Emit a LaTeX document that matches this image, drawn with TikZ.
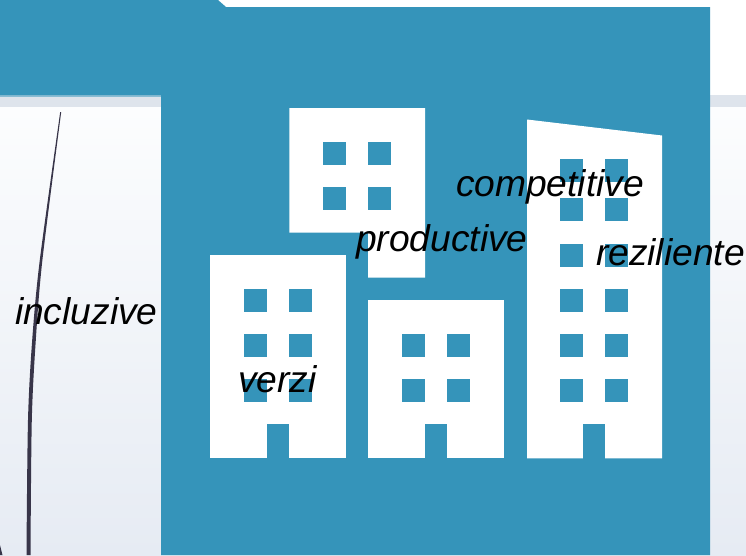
\documentclass[tikz,border=0pt]{standalone}
\usepackage{fontspec}
\setmainfont{Liberation Sans}
\definecolor{teal}{HTML}{3594BA}
\definecolor{bandc}{HTML}{DEE4EC}
\definecolor{curvec}{HTML}{383549}
\definecolor{topc}{HTML}{FCFDFE}
\definecolor{botc}{HTML}{E6EBF3}
\begin{document}
\begin{tikzpicture}[x=1pt,y=-1pt,
  win/.style={fill=teal,draw=none},
  bld/.style={fill=white,draw=none},
  lbl/.style={anchor=base west,inner sep=0pt,outer sep=0pt,font=\fontsize{37.2}{37.2}\selectfont\itshape,text=black}]
\useasboundingbox (0,0) rectangle (746,555);
\fill[white] (0,0) rectangle (746,95);
\fill[bandc] (0,95) rectangle (746,107.5);
\fill[teal!50!bandc] (0,95) rectangle (161,96.5);
\shade[top color=topc,bottom color=botc] (0,107.5) rectangle (746,555);
% curve
\fill[curvec] plot[smooth] coordinates {(60.2,112) (39.8,260) (32.2,340) (28,420) (26.5,555)}
  -- plot[smooth] coordinates {(30.5,555) (31.8,420) (35.8,340) (42.4,260) (61.2,112)} -- cycle;
\fill[curvec] (0,545) -- (2.5,555) -- (0,555) -- cycle;
% teal panel
\fill[teal] (0,0) -- (218,0) -- (226,7) -- (710,7) -- (710,555) -- (161,555) -- (161,95) -- (0,95) -- cycle;
% buildings
\fill[bld] (289.3,108) -- (425,108) -- (425,277.5) -- (368,277.5) -- (368,232.5) -- (289.3,232.5) -- cycle;
\fill[bld] (210.2,255) rectangle (346,458.3);
\fill[bld] (368,300) rectangle (504,458.3);
\fill[bld] (527,119.5) -- (662,135.5) -- (662,458.3) -- (527,458.3) -- cycle;
% windows
\foreach \x in {323.2,368.2} \foreach \y in {142,187} \fill[win] (\x,\y) rectangle ++(22.5,22.5);
\foreach \x in {244.2,289.2} \foreach \y in {289,334,379} \fill[win] (\x,\y) rectangle ++(22.5,22.5);
\foreach \x in {402.2,447.2} \foreach \y in {334,379} \fill[win] (\x,\y) rectangle ++(22.5,22.5);
\foreach \x in {560.2,605.2} \foreach \y in {159,198,244,289,334,379} \fill[win] (\x,\y) rectangle ++(22.5,22.5);
% doors
\fill[win] (266.8,424) rectangle (289.3,460);
\fill[win] (424.8,424) rectangle (447.3,460);
\fill[win] (582.8,424) rectangle (605.3,460);
% labels
\node[lbl] (competitive) at (456,196) {competitive};
\node[lbl] (productive) at (356,251) {productive};
\node[lbl] (reziliente) at (596,265) {reziliente};
\node[lbl] (incluzive) at (15,324) {incluzive};
\node[lbl] (verzi) at (238,392) {verzi};
\end{tikzpicture}
\end{document}
